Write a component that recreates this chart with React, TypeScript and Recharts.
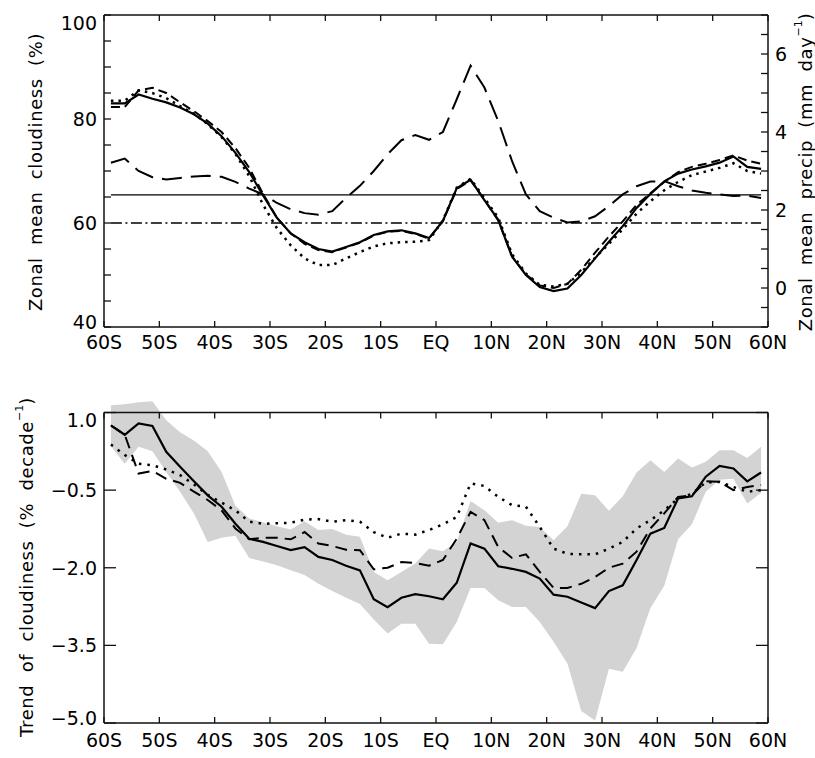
import React from 'react';
import { ComposedChart, Line, Area, XAxis, YAxis, ReferenceLine } from 'recharts';

// latitude of each zonal band (2.5 deg bins)
const LAT = [
  -58.75, -56.25, -53.75, -51.25, -48.75, -46.25, -43.75, -41.25, -38.75, -36.25, -33.75, -31.25,
  -28.75, -26.25, -23.75, -21.25, -18.75, -16.25, -13.75, -11.25, -8.75, -6.25, -3.75, -1.25,
  1.25, 3.75, 6.25, 8.75, 11.25, 13.75, 16.25, 18.75, 21.25, 23.75, 26.25, 28.75,
  31.25, 33.75, 36.25, 38.75, 41.25, 43.75, 46.25, 48.75, 51.25, 53.75, 56.25, 58.75,
];

// top panel: zonal mean cloudiness (%)
const CLOUD_SOLID = [
  83.0, 83.0, 84.7, 83.9, 83.2, 82.2, 80.9, 79.1, 76.7, 73.5, 69.8, 65.3,
  61.0, 58.0, 56.3, 55.0, 54.5, 55.4, 56.3, 57.7, 58.4, 58.6, 58.0, 57.1,
  60.4, 66.7, 68.3, 64.4, 60.6, 53.5, 50.0, 47.7, 46.9, 47.4, 50.0, 53.2,
  56.4, 59.4, 62.9, 65.6, 68.0, 69.5, 70.3, 70.9, 71.6, 72.8, 70.8, 70.4,
];
const CLOUD_DASH = [
  82.3, 82.3, 85.5, 86.0, 85.0, 83.2, 81.5, 79.6, 77.5, 74.4, 70.6, 65.6,
  61.0, 58.0, 56.0, 54.8, 54.4, 55.3, 56.2, 57.6, 58.3, 58.5, 57.9, 57.0,
  60.4, 66.5, 68.2, 64.5, 60.5, 53.6, 50.1, 48.0, 47.5, 48.3, 51.0, 54.3,
  57.4, 60.3, 63.5, 65.7, 67.9, 69.8, 70.8, 71.4, 72.1, 73.0, 72.0, 71.4,
];
const CLOUD_DOT = [
  83.5, 83.5, 85.5, 85.0, 84.0, 82.5, 81.0, 79.0, 76.5, 73.3, 69.0, 63.5,
  59.0, 55.7, 53.2, 51.9, 51.9, 53.2, 54.4, 55.5, 56.1, 56.3, 56.4, 56.7,
  60.5, 66.8, 68.5, 64.8, 61.0, 54.0, 50.3, 48.1, 47.8, 48.3, 50.5, 53.3,
  56.0, 58.8, 61.8, 64.2, 66.3, 67.9, 69.2, 69.9, 70.6, 71.5, 70.0, 69.5,
];
// zonal mean precip (mm/day), right axis
const PRECIP = [
  3.21, 3.32, 3.0, 2.84, 2.78, 2.82, 2.86, 2.88, 2.85, 2.72, 2.55, 2.4,
  2.18, 2.02, 1.92, 1.88, 1.97, 2.31, 2.62, 3.0, 3.43, 3.79, 3.92, 3.8,
  4.0, 4.84, 5.7, 5.14, 4.28, 3.25, 2.4, 1.97, 1.8, 1.68, 1.71, 1.84,
  2.1, 2.4, 2.61, 2.73, 2.74, 2.61, 2.5, 2.44, 2.4, 2.36, 2.37, 2.31,
];
const MEAN_CLOUD = 65.4;
const REF_CLOUD = 60;

// bottom panel: trend of cloudiness (% / decade)
const TREND_SOLID = [
  0.75, 0.57, 0.79, 0.74, 0.24, -0.05, -0.33, -0.6, -0.82, -1.15, -1.44, -1.5,
  -1.58, -1.66, -1.6, -1.79, -1.85, -1.96, -2.05, -2.61, -2.76, -2.58, -2.51, -2.55,
  -2.61, -2.29, -1.53, -1.63, -1.97, -2.02, -2.08, -2.21, -2.52, -2.56, -2.67, -2.78,
  -2.45, -2.34, -1.85, -1.34, -1.23, -0.66, -0.62, -0.24, -0.03, -0.08, -0.33, -0.16,
];
const TREND_DASH = [
  0.75, 0.57, -0.18, -0.13, -0.28, -0.36, -0.53, -0.69, -0.89, -1.24, -1.45, -1.42,
  -1.42, -1.45, -1.31, -1.53, -1.58, -1.65, -1.66, -2.03, -2.0, -1.89, -1.91, -1.96,
  -1.85, -1.44, -0.92, -1.08, -1.6, -1.81, -1.74, -2.08, -2.39, -2.39, -2.31, -2.18,
  -2.0, -1.92, -1.69, -1.24, -0.95, -0.63, -0.6, -0.33, -0.34, -0.5, -0.44, -0.4,
];
const TREND_DOT = [
  0.38, 0.18, 0.01, -0.02, -0.1, -0.21, -0.39, -0.59, -0.74, -0.89, -1.11, -1.15,
  -1.14, -1.13, -1.07, -1.06, -1.11, -1.08, -1.11, -1.31, -1.42, -1.34, -1.36, -1.27,
  -1.16, -1.02, -0.37, -0.42, -0.63, -0.79, -0.82, -1.21, -1.63, -1.73, -1.74, -1.74,
  -1.63, -1.5, -1.24, -1.08, -0.89, -0.66, -0.57, -0.35, -0.34, -0.44, -0.53, -0.5,
];
const BAND_HI = [
  1.14, 1.16, 1.2, 1.22, 0.85, 0.62, 0.46, 0.25, -0.15, -0.8, -1.05, -1.12,
  -1.2, -1.26, -1.1, -1.27, -1.25, -1.36, -1.4, -2.08, -2.24, -2.08, -1.92, -1.63,
  -1.68, -1.5, -0.71, -0.89, -1.13, -1.08, -1.19, -1.21, -1.47, -1.2, -0.57, -0.6,
  -0.9, -0.62, -0.16, 0.08, -0.15, 0.11, -0.06, 0.05, 0.27, 0.27, 0.12, 0.34,
];
const BAND_LO = [
  0.35, 0.01, 0.34, 0.25, -0.15, -0.53, -0.95, -1.5, -1.42, -1.38, -1.81, -1.88,
  -1.95, -2.05, -2.14, -2.31, -2.45, -2.58, -2.7, -3.0, -3.27, -3.08, -3.08, -3.47,
  -3.48, -3.05, -2.39, -2.39, -2.63, -2.76, -2.76, -3.05, -3.43, -3.85, -4.77, -4.95,
  -3.95, -4.01, -3.55, -2.78, -2.35, -1.45, -1.16, -0.53, -0.3, -0.28, -0.76, -0.55,
];

const X_TICKS = [-60, -50, -40, -30, -20, -10, 0, 10, 20, 30, 40, 50, 60];
const CLOUD_TICKS = [40, 45, 50, 55, 60, 65, 70, 75, 80, 85, 90, 95, 100];
const CLOUD_LABELS = [40, 60, 80, 100];
const PRECIP_TICKS = [-1, -0.5, 0, 0.5, 1, 1.5, 2, 2.5, 3, 3.5, 4, 4.5, 5, 5.5, 6, 6.5, 7];
const PRECIP_LABELS = [0, 2, 4, 6];
const TREND_TICKS = [-5, -3.5, -2, -0.5, 1];

const FONT = '"DejaVu Sans", sans-serif';
const INK = '#111';
const PLOT_LEFT = 104;
const PLOT_RIGHT = 768;

const TOP_H = 370;
const TOP_PLOT_TOP = 15;
const TOP_PLOT_BOTTOM = 327;

const BOT_H = 388;
const BOT_PLOT_TOP = 27;
const BOT_PLOT_BOTTOM = 353;
const BOT_MIN = -5;
const BOT_MAX = 1.3; // head room so the band can poke above the frame
const BOT_FRAME = 1;
const BOT_FRAME_Y =
  BOT_PLOT_TOP + ((BOT_MAX - BOT_FRAME) / (BOT_MAX - BOT_MIN)) * (BOT_PLOT_BOTTOM - BOT_PLOT_TOP);

const latLabel = (v: number) => (v === 0 ? 'EQ' : `${Math.abs(v)}${v < 0 ? 'S' : 'N'}`);
const trendLabel = (v: number) => `${v < 0 ? '\u2212' : ''}${Math.abs(v).toFixed(1)}`;

const textStyle = { fontFamily: FONT, fontSize: 19, fill: '#000' };

// inward tick marks on bottom and top frame, label under the bottom one
const xTick = (axisY: number, topY: number, labelDy: number) => (p: any) => (
  <g>
    <line x1={p.x} x2={p.x} y1={axisY} y2={axisY - 6} stroke={INK} strokeWidth={1.3} />
    <line x1={p.x} x2={p.x} y1={topY} y2={topY + 6} stroke={INK} strokeWidth={1.3} />
    <text x={p.x} y={axisY + labelDy} textAnchor="middle" {...textStyle}>
      {latLabel(p.payload.value)}
    </text>
  </g>
);

const leftTick =
  (len: number, labelled: number[] | null, fmt: (v: number) => string, hi: number, lo: number, both = false) =>
  (p: any) => {
    const v = p.payload.value;
    const shift = v === hi ? 8 : v === lo ? -5 : 0;
    const show = labelled ? labelled.includes(v) : true;
    return (
      <g>
        <line x1={PLOT_LEFT} x2={PLOT_LEFT + len} y1={p.y} y2={p.y} stroke={INK} strokeWidth={1.3} />
        {both && (
          <line x1={PLOT_RIGHT} x2={PLOT_RIGHT - len} y1={p.y} y2={p.y} stroke={INK} strokeWidth={1.3} />
        )}
        {show && (
          <text x={PLOT_LEFT - 7} y={p.y + shift} dy="0.36em" textAnchor="end" {...textStyle}>
            {fmt(v)}
          </text>
        )}
      </g>
    );
  };

const rightTick = (p: any) => {
  const v = p.payload.value;
  return (
    <g>
      <line x1={PLOT_RIGHT} x2={PLOT_RIGHT - 7} y1={p.y} y2={p.y} stroke={INK} strokeWidth={1.3} />
      {PRECIP_LABELS.includes(v) && (
        <text x={PLOT_RIGHT + 7} y={p.y} dy="0.36em" textAnchor="start" {...textStyle}>
          {String(v)}
        </text>
      )}
    </g>
  );
};

const titleStyle = { fontFamily: FONT, fontSize: 18, fill: '#000', letterSpacing: 0.6, wordSpacing: 6 };

const VTitle = ({ cx, cy, main, unit }: { cx: number; cy: number; main: string; unit?: string }) => (
  <text
    x={cx}
    y={cy}
    transform={`rotate(-90 ${cx} ${cy})`}
    textAnchor="middle"
    dominantBaseline="central"
    {...titleStyle}
  >
    {main}
    {unit && (
      <>
        <tspan dy={-7} fontSize={11} letterSpacing={0}>
          {unit}
        </tspan>
        <tspan dy={7}>)</tspan>
      </>
    )}
  </text>
);

const frame = { stroke: INK, strokeWidth: 1.5 };

export default function App() {
  const topData = LAT.map((lat, i) => ({
    lat,
    solid: CLOUD_SOLID[i],
    dash: CLOUD_DASH[i],
    dot: CLOUD_DOT[i],
    precip: PRECIP[i],
  }));
  const botData = LAT.map((lat, i) => ({
    lat,
    band: [BAND_LO[i], BAND_HI[i]],
    solid: TREND_SOLID[i],
    dash: TREND_DASH[i],
    dot: TREND_DOT[i],
  }));

  return (
    <div style={{ position: 'absolute', left: 0, top: 0, width: 815, height: 758, background: '#fff' }}>
      <ComposedChart
        width={815}
        height={TOP_H}
        data={topData}
        margin={{ top: TOP_PLOT_TOP, right: 7, bottom: TOP_H - TOP_PLOT_BOTTOM - 30, left: 44 }}
      >
        <XAxis
          dataKey="lat"
          type="number"
          domain={[-60, 60]}
          ticks={X_TICKS}
          interval={0}
          height={30}
          tickLine={false}
          axisLine={frame}
          tick={xTick(TOP_PLOT_BOTTOM, TOP_PLOT_TOP, 22)}
        />
        <YAxis
          yAxisId="left"
          domain={[40, 100]}
          ticks={CLOUD_TICKS}
          interval={0}
          width={60}
          tickLine={false}
          axisLine={frame}
          tick={leftTick(7, CLOUD_LABELS, (v) => String(v), 100, 40)}
          label={() => <VTitle cx={35} cy={172} main="Zonal mean cloudiness (%)" />}
        />
        <YAxis
          yAxisId="right"
          orientation="right"
          domain={[-1, 7]}
          ticks={PRECIP_TICKS}
          interval={0}
          width={40}
          tickLine={false}
          axisLine={frame}
          tick={rightTick}
          label={() => <VTitle cx={805} cy={172} main="Zonal mean precip (mm day" unit={'\u22121'} />}
        />
        <ReferenceLine yAxisId="left" y={100} stroke={INK} strokeWidth={1.5} />
        <ReferenceLine
          yAxisId="left"
          segment={[{ x: LAT[0], y: MEAN_CLOUD }, { x: LAT[LAT.length - 1], y: MEAN_CLOUD }]}
          stroke="#000"
          strokeWidth={1.3}
        />
        <ReferenceLine
          yAxisId="left"
          segment={[{ x: LAT[0], y: REF_CLOUD }, { x: LAT[LAT.length - 1], y: REF_CLOUD }]}
          stroke="#000"
          strokeWidth={1.4}
          strokeDasharray="11 3.5 2 3.5"
        />
        <Line
          yAxisId="right"
          dataKey="precip"
          stroke="#000"
          strokeWidth={2}
          strokeDasharray="20 9"
          dot={false}
          activeDot={false}
          isAnimationActive={false}
        />
        <Line
          yAxisId="left"
          dataKey="dash"
          stroke="#000"
          strokeWidth={2}
          strokeDasharray="9 5"
          dot={false}
          activeDot={false}
          isAnimationActive={false}
        />
        <Line
          yAxisId="left"
          dataKey="dot"
          stroke="#000"
          strokeWidth={2.5}
          strokeDasharray="2.5 5"
          dot={false}
          activeDot={false}
          isAnimationActive={false}
        />
        <Line
          yAxisId="left"
          dataKey="solid"
          stroke="#000"
          strokeWidth={2.2}
          dot={false}
          activeDot={false}
          isAnimationActive={false}
        />
      </ComposedChart>

      <ComposedChart
        width={815}
        height={BOT_H}
        data={botData}
        margin={{ top: BOT_PLOT_TOP, right: 815 - PLOT_RIGHT, bottom: BOT_H - BOT_PLOT_BOTTOM - 30, left: 44 }}
      >
        <XAxis
          dataKey="lat"
          type="number"
          domain={[-60, 60]}
          ticks={X_TICKS}
          interval={0}
          height={30}
          tickLine={false}
          axisLine={frame}
          tick={xTick(BOT_PLOT_BOTTOM, BOT_FRAME_Y, 24)}
        />
        <YAxis
          yAxisId="left"
          domain={[BOT_MIN, BOT_MAX]}
          ticks={TREND_TICKS}
          interval={0}
          width={60}
          tickLine={false}
          axisLine={false}
          tick={leftTick(12, null, trendLabel, BOT_FRAME, BOT_MIN, true)}
          label={() => <VTitle cx={26} cy={197} main="Trend of cloudiness (% decade" unit={'\u22121'} />}
        />
        <Area
          yAxisId="left"
          dataKey="band"
          type="linear"
          fill="#d3d3d3"
          fillOpacity={1}
          stroke="none"
          activeDot={false}
          isAnimationActive={false}
        />
        <ReferenceLine yAxisId="left" y={BOT_FRAME} stroke={INK} strokeWidth={1.5} />
        <ReferenceLine
          yAxisId="left"
          segment={[{ x: -60, y: BOT_MIN }, { x: -60, y: BOT_FRAME }]}
          stroke={INK}
          strokeWidth={1.5}
        />
        <ReferenceLine
          yAxisId="left"
          segment={[{ x: 60, y: BOT_MIN }, { x: 60, y: BOT_FRAME }]}
          stroke={INK}
          strokeWidth={1.5}
        />
        <Line
          yAxisId="left"
          dataKey="dot"
          stroke="#000"
          strokeWidth={2.5}
          strokeDasharray="2.5 6"
          dot={false}
          activeDot={false}
          isAnimationActive={false}
        />
        <Line
          yAxisId="left"
          dataKey="dash"
          stroke="#000"
          strokeWidth={2}
          strokeDasharray="12 7"
          dot={false}
          activeDot={false}
          isAnimationActive={false}
        />
        <Line
          yAxisId="left"
          dataKey="solid"
          stroke="#000"
          strokeWidth={2.2}
          dot={false}
          activeDot={false}
          isAnimationActive={false}
        />
      </ComposedChart>
    </div>
  );
}
